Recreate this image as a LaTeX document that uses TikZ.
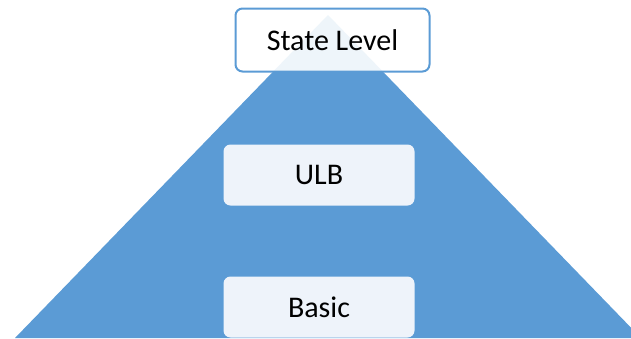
\documentclass[tikz,border=0pt]{standalone}
\usepackage{fontspec}
\setmainfont{Carlito}
\usetikzlibrary{positioning}
\definecolor{pyr}{HTML}{5B9BD5}
\definecolor{softpyr}{HTML}{EEF3FA}
\tikzset{
  level/.style  = {rectangle, rounded corners=7pt, fill=softpyr, draw=none,
                   align=center, inner sep=0pt, font=\fontsize{30}{34}\selectfont,
                   minimum width=191pt, minimum height=61pt},
  toplevel/.style = {level, draw=pyr, line width=2pt, fill=white, fill opacity=0.9,
                   text opacity=1, minimum width=194pt, minimum height=63pt},
}
\begin{document}
\begin{tikzpicture}[x=1pt,y=-1pt]
  \useasboundingbox (0,0) rectangle (631,338);
  \begin{scope}
    \clip (0,0) rectangle (631,338);
    \fill[pyr] (328,15) -- (641,338) -- (15,338) -- cycle;
  \end{scope}
  \node[toplevel] (state) at (332.5,40) {State Level};
  \node[level] (ulb) at (319,175) {ULB};
  \node[level] (basic) at (319,307) {Basic};
\end{tikzpicture}
\end{document}
